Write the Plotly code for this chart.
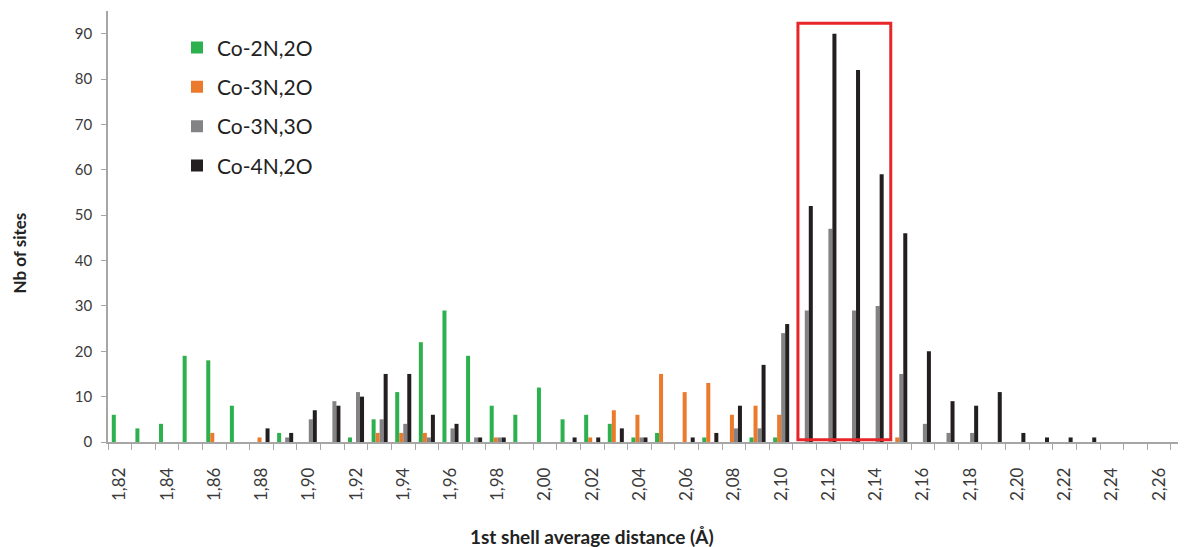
import plotly.graph_objects as go

distances = [1.82, 1.83, 1.84, 1.85, 1.86, 1.87, 1.88, 1.89, 1.90, 1.91,
             1.92, 1.93, 1.94, 1.95, 1.96, 1.97, 1.98, 1.99, 2.00, 2.01,
             2.02, 2.03, 2.04, 2.05, 2.06, 2.07, 2.08, 2.09, 2.10, 2.11,
             2.12, 2.13, 2.14, 2.15, 2.16, 2.17, 2.18, 2.19, 2.20, 2.21,
             2.22, 2.23, 2.24, 2.25, 2.26]

co_2n2o = [6, 3, 4, 19, 18, 8, 0, 2, 0, 0,
           1, 5, 11, 22, 29, 19, 8, 6, 12, 5,
           6, 4, 1, 2, 0, 1, 0, 1, 1, 0,
           0, 0, 0, 0, 0, 0, 0, 0, 0, 0,
           0, 0, 0, 0, 0]
co_3n2o = [0, 0, 0, 0, 2, 0, 1, 0, 0, 0,
           0, 2, 2, 2, 0, 0, 1, 0, 0, 0,
           1, 7, 6, 15, 11, 13, 6, 8, 6, 0,
           0, 0, 0, 1, 0, 0, 0, 0, 0, 0,
           0, 0, 0, 0, 0]
co_3n3o = [0, 0, 0, 0, 0, 0, 0, 1, 5, 9,
           11, 5, 4, 1, 3, 1, 1, 0, 0, 0,
           0, 0, 1, 0, 0, 0, 3, 3, 24, 29,
           47, 29, 30, 15, 4, 2, 2, 0, 0, 0,
           0, 0, 0, 0, 0]
co_4n2o = [0, 0, 0, 0, 0, 0, 3, 2, 7, 8,
           10, 15, 15, 6, 4, 1, 1, 0, 0, 1,
           1, 3, 1, 0, 1, 2, 8, 17, 26, 52,
           90, 82, 59, 46, 20, 9, 8, 11, 2, 1,
           1, 1, 0, 0, 0]

series_names = ["Co-2N,2O", "Co-3N,2O", "Co-3N,3O", "Co-4N,2O"]
series_values = [co_2n2o, co_3n2o, co_3n3o, co_4n2o]
series_colors = ["#2db14e", "#ec7a2c", "#838386", "#231f20"]

tick_values = [1.82, 1.84, 1.86, 1.88, 1.90, 1.92, 1.94, 1.96, 1.98, 2.00,
               2.02, 2.04, 2.06, 2.08, 2.10, 2.12, 2.14, 2.16, 2.18, 2.20,
               2.22, 2.24, 2.26]
tick_labels = ["1,82", "1,84", "1,86", "1,88", "1,90", "1,92", "1,94", "1,96",
               "1,98", "2,00", "2,02", "2,04", "2,06", "2,08", "2,10", "2,12",
               "2,14", "2,16", "2,18", "2,20", "2,22", "2,24", "2,26"]

highlight_x = [2.1071, 2.1464]
highlight_y = [0.5, 92.3]

FONT = "Lato, 'Open Sans', sans-serif"
AXIS_GRAY = "#a6a6a6"

fig = go.Figure()
for name, vals, col in zip(series_names, series_values, series_colors):
    fig.add_trace(go.Bar(x=distances, y=vals, name=name, marker_color=col,
                         marker_line_width=0, legendgroup=name))

fig.add_shape(type="rect", xref="x", yref="y",
              x0=highlight_x[0], x1=highlight_x[1],
              y0=highlight_y[0], y1=highlight_y[1],
              line=dict(color="#e8262a", width=3), fillcolor="rgba(0,0,0,0)")

fig.update_layout(
    width=1178, height=539,
    margin=dict(l=100, r=0, t=3, b=105),
    paper_bgcolor="white", plot_bgcolor="white",
    barmode="group", bargap=0.32, bargroupgap=0,
    font=dict(family=FONT, color="#404040"),
    showlegend=True,
    legend=dict(x=0.064, y=0.962, xanchor="left", yanchor="top",
                font=dict(size=21, color="#222222", family=FONT),
                tracegroupgap=9, bgcolor="rgba(0,0,0,0)"),
    xaxis=dict(range=[1.815, 2.2714], tickmode="array",
               tickvals=tick_values, ticktext=tick_labels,
               tickangle=-90, ticks="", ticklabelstandoff=17,
               tickfont=dict(size=17, color="#3a3a3a"),
               showline=True, linecolor=AXIS_GRAY, linewidth=1.5,
               showgrid=False, zeroline=False, automargin=False,
               minor=dict(tick0=1.815, dtick=0.01, ticks="outside",
                          ticklen=6, tickcolor=AXIS_GRAY, tickwidth=1.2,
                          showgrid=False)),
    yaxis=dict(range=[0, 95], tickmode="array",
               tickvals=[0, 10, 20, 30, 40, 50, 60, 70, 80, 90],
               ticks="outside", ticklen=5, tickcolor=AXIS_GRAY,
               tickfont=dict(size=15, color="#3a3a3a"),
               ticklabelstandoff=6, automargin=False,
               showline=True, linecolor=AXIS_GRAY, linewidth=1.5,
               showgrid=False, zeroline=False),
    annotations=[
        dict(text="<b>1st shell average distance (Å)</b>", xref="paper", yref="paper",
             x=0.449, y=-0.2204, xanchor="center", yanchor="middle",
             showarrow=False, font=dict(size=19, color="#222222", family=FONT)),
        dict(text="<b>Nb of sites</b>", xref="paper", yref="paper",
             x=-0.0821, y=0.4385, xanchor="center", yanchor="middle", textangle=-90,
             showarrow=False, font=dict(size=17, color="#222222", family=FONT)),
    ],
)

fig.write_html("out.html")
